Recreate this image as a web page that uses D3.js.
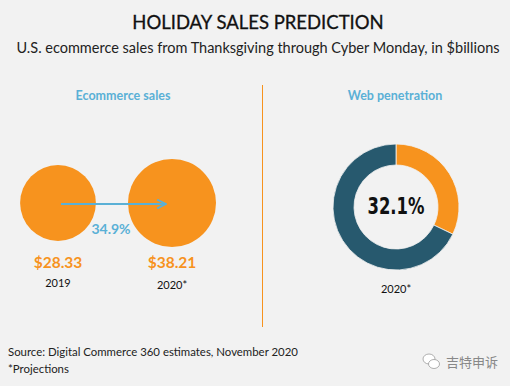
<!DOCTYPE html>
<html>
<head>
<meta charset="utf-8">
<script src="https://cdn.jsdelivr.net/npm/d3@7.9.0/dist/d3.min.js"></script>
<style>
  body { margin: 0; background: #f2f2f2; }
  svg { display: block; font-family: Lato, "Open Sans", sans-serif; }
</style>
</head>
<body>
<svg id="chart" width="510" height="386"></svg>
<script>
const years = ['2019', '2020*'];
const sales = [28.33, 38.21];
const growth = '34.9%';
const penetration = [32.1, 67.9];
const penLabel = '2020*';

const orange = '#f7931e';
const blue = '#5ab0d6';
const teal = '#27596e';

const svg = d3.select('#chart');

svg.append('text')
  .attr('x', 258).attr('y', 29)
  .attr('text-anchor', 'middle')
  .attr('font-size', 18.5)
  .attr('fill', '#111')
  .attr('stroke', '#111').attr('stroke-width', 0.3)
  .text('HOLIDAY SALES PREDICTION');

svg.append('text')
  .attr('x', 258).attr('y', 53)
  .attr('text-anchor', 'middle')
  .attr('font-size', 14.5)
  .attr('fill', '#222')
  .text('U.S. ecommerce sales from Thanksgiving through Cyber Monday, in $billions');

// left panel: bubbles
svg.append('text')
  .attr('x', 123).attr('y', 100)
  .attr('text-anchor', 'middle')
  .attr('font-size', 12.5).attr('font-weight', 'bold')
  .attr('fill', blue)
  .text('Ecommerce sales');

const x = d3.scalePoint().domain(years).range([58, 172]);
const r = d3.scaleSqrt().domain([0, d3.max(sales)]).range([0, 44]);
const cy = 203;

svg.selectAll('circle.bubble')
  .data(sales)
  .join('circle')
  .attr('class', 'bubble')
  .attr('cx', (d, i) => x(years[i]))
  .attr('cy', cy)
  .attr('r', d => r(d))
  .attr('fill', orange);

svg.append('defs').append('marker')
  .attr('id', 'arrow')
  .attr('viewBox', '0 0 10 10')
  .attr('refX', 9).attr('refY', 5)
  .attr('markerWidth', 5).attr('markerHeight', 5)
  .attr('orient', 'auto')
  .append('path')
  .attr('d', 'M1,1 L9,5 L1,9')
  .attr('fill', 'none')
  .attr('stroke', blue)
  .attr('stroke-width', 1.6);

svg.append('line')
  .attr('x1', x(years[0]) + 3).attr('x2', x(years[1]) - 6)
  .attr('y1', cy + 1).attr('y2', cy + 1)
  .attr('stroke', blue).attr('stroke-width', 2.2)
  .attr('marker-end', 'url(#arrow)');

svg.append('text')
  .attr('x', 111).attr('y', 234)
  .attr('text-anchor', 'middle')
  .attr('font-size', 14).attr('font-weight', 'bold')
  .attr('fill', blue)
  .text(growth);

svg.selectAll('text.val')
  .data(sales)
  .join('text')
  .attr('class', 'val')
  .attr('x', (d, i) => x(years[i]))
  .attr('y', 268)
  .attr('text-anchor', 'middle')
  .attr('font-size', 15.5).attr('font-weight', 'bold')
  .attr('fill', orange)
  .text(d => '$' + d3.format('.2f')(d));

svg.selectAll('text.year')
  .data(years)
  .join('text')
  .attr('class', 'year')
  .attr('x', d => x(d))
  .attr('y', (d, i) => i ? 289 : 287)
  .attr('text-anchor', 'middle')
  .attr('font-size', 11)
  .attr('fill', '#111')
  .text(d => d);

// divider
svg.append('line')
  .attr('x1', 262.5).attr('x2', 262.5)
  .attr('y1', 85).attr('y2', 327)
  .attr('stroke', orange).attr('stroke-width', 1);

// right panel: donut
svg.append('text')
  .attr('x', 395).attr('y', 100)
  .attr('text-anchor', 'middle')
  .attr('font-size', 12.5).attr('font-weight', 'bold')
  .attr('fill', blue)
  .text('Web penetration');

const pie = d3.pie().sort(null).value(d => d);
const arc = d3.arc().innerRadius(42).outerRadius(63);
const donut = svg.append('g').attr('transform', 'translate(396,207)');
donut.selectAll('path')
  .data(pie(penetration))
  .join('path')
  .attr('d', arc)
  .attr('fill', (d, i) => i === 0 ? orange : teal)
  .attr('stroke', '#f2f2f2')
  .attr('stroke-width', 0.8);

donut.append('text')
  .attr('y', 7)
  .attr('text-anchor', 'middle')
  .attr('font-family', '"DejaVu Sans", sans-serif')
  .attr('font-size', 23).attr('font-weight', 'bold')
  .attr('fill', '#111')
  .attr('textLength', 57).attr('lengthAdjust', 'spacingAndGlyphs')
  .text(d3.format('.1f')(penetration[0]) + '%');

svg.append('text')
  .attr('x', 396).attr('y', 293)
  .attr('text-anchor', 'middle')
  .attr('font-size', 11)
  .attr('fill', '#111')
  .text(penLabel);

// footer
svg.append('text')
  .attr('x', 8).attr('y', 356)
  .attr('font-size', 11.4)
  .attr('fill', '#222')
  .text('Source: Digital Commerce 360 estimates, November 2020');

svg.append('text')
  .attr('x', 8).attr('y', 373)
  .attr('font-size', 11.4)
  .attr('fill', '#222')
  .text('*Projections');

// watermark
const wm = svg.append('g').attr('transform', 'translate(430,362)').attr('fill', 'none').attr('stroke', '#9a9a9a').attr('stroke-width', 0.8);
wm.append('ellipse').attr('cx', -1).attr('cy', -3).attr('rx', 6).attr('ry', 5).attr('fill', '#fff');
wm.append('ellipse').attr('cx', 4).attr('cy', 2).attr('rx', 5.5).attr('ry', 4.5).attr('fill', '#fff');
svg.append('text')
  .attr('x', 446).attr('y', 367)
  .attr('font-family', '"Noto Sans CJK SC", sans-serif')
  .attr('font-size', 13)
  .attr('fill', '#888')
  .text('吉特申诉');
</script>
</body>
</html>
